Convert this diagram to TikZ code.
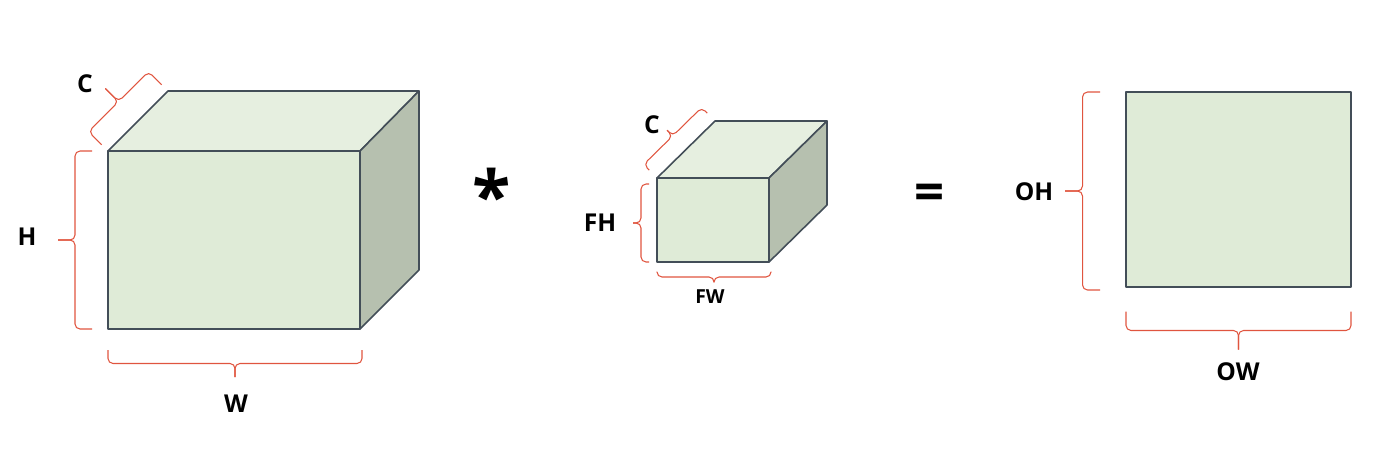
\documentclass[tikz,border=0pt]{standalone}
\usepackage{fontspec}
\setmainfont{Open Sans}
\usetikzlibrary{calc}
\definecolor{frontgreen}{HTML}{DFEBD7}
\definecolor{topgreen}{HTML}{E6EFE0}
\definecolor{sidegreen}{HTML}{B6C0AF}
\definecolor{edgegray}{HTML}{434E58}
\definecolor{bracered}{HTML}{E0553F}
% curly brace on the left of #1 -> #2, raise #3 and amplitude #4 (cm)
\newcommand{\dimbrace}[4]{%
  \coordinate (br-mid) at ($(#1)!0.5!(#2)$);
  \coordinate (br-e1) at ($(#1)!#3cm!90:(#2)$);
  \coordinate (br-s1) at ($(#1)!#3cm+0.5*#4cm!90:(#2)$);
  \coordinate (br-e2) at ($(#2)!#3cm!-90:(#1)$);
  \coordinate (br-s2) at ($(#2)!#3cm+0.5*#4cm!-90:(#1)$);
  \coordinate (br-sm) at ($(br-mid)!#3cm+0.5*#4cm!90:(#2)$);
  \coordinate (br-tip) at ($(br-mid)!#3cm+#4cm!90:(#2)$);
  \draw[bracestyle] (br-e1) -- (br-s1) -- (br-sm) -- (br-tip);
  \draw[bracestyle] (br-e2) -- (br-s2) -- (br-sm) -- (br-tip);}

\begin{document}
\begin{tikzpicture}[x=0.02cm, y=-0.02cm, line join=round,
  face/.style={draw=edgegray, line width=0.9pt},
  bracestyle/.style={draw=bracered, line width=0.6pt, rounded corners=0.1cm},
  lbl/.style={font=\fontsize{14}{14}\selectfont\bfseries, inner sep=0pt}]
\useasboundingbox (0,0) rectangle (1398,451);

% input volume H x W x C
\coordinate (in-ftl) at (108,151);
\coordinate (in-fbl) at (108,329);
\coordinate (in-fbr) at (360,329);
\coordinate (in-btl) at (168,91);
\draw[face, fill=topgreen] (in-ftl) -- (in-btl) -- (419,91) -- (360,151) -- cycle;
\draw[face, fill=sidegreen] (360,151) -- (419,91) -- (419,270) -- (in-fbr) -- cycle;
\draw[face, fill=frontgreen] (in-ftl) rectangle (in-fbr);
\dimbrace{in-fbl}{in-ftl}{0.32}{0.68}
\dimbrace{362,329}{in-fbl}{0.42}{0.54}
\dimbrace{in-ftl}{in-btl}{0.18}{0.74}
\node[lbl] (in-h) at (27,237) {H};
\node[lbl] (in-w) at (236,404) {W};
\node[lbl] (in-c) at (85,84) {C};

\node[font=\fontsize{40}{40}\selectfont\bfseries, inner sep=0pt] (conv) at (492,195) {*};

% filter FH x FW x C
\coordinate (f-ftl) at (657,178);
\coordinate (f-fbl) at (657,262);
\coordinate (f-fbr) at (769,262);
\coordinate (f-btl) at (715,121);
\draw[face, fill=topgreen] (f-ftl) -- (f-btl) -- (827,121) -- (769,178) -- cycle;
\draw[face, fill=sidegreen] (769,178) -- (827,121) -- (827,205) -- (f-fbr) -- cycle;
\draw[face, fill=frontgreen] (f-ftl) rectangle (f-fbr);
\dimbrace{f-fbl}{657,184}{0.16}{0.32}
\dimbrace{771,262}{f-fbl}{0.2}{0.2}
\dimbrace{f-ftl}{f-btl}{0.22}{0.32}
\node[lbl] (f-h) at (600,223) {FH};
\node[lbl, font=\fontsize{11}{11}\selectfont\bfseries] (f-w) at (710,297) {FW};
\node[lbl] (f-c) at (652,125) {C};

\node[font=\fontsize{30}{30}\selectfont\bfseries, inner sep=0pt] (eq) at (930,197) {=};

% output OH x OW
\coordinate (o-tl) at (1126,92);
\coordinate (o-bl) at (1126,287);
\coordinate (o-br) at (1351,287);
\draw[face, fill=frontgreen] (o-tl) rectangle (o-br);
\dimbrace{1126,290}{o-tl}{0.52}{0.7}
\dimbrace{o-br}{o-bl}{0.49}{0.76}
\node[lbl] (o-h) at (1034,192) {OH};
\node[lbl] (o-w) at (1238,372) {OW};
\end{tikzpicture}
\end{document}
